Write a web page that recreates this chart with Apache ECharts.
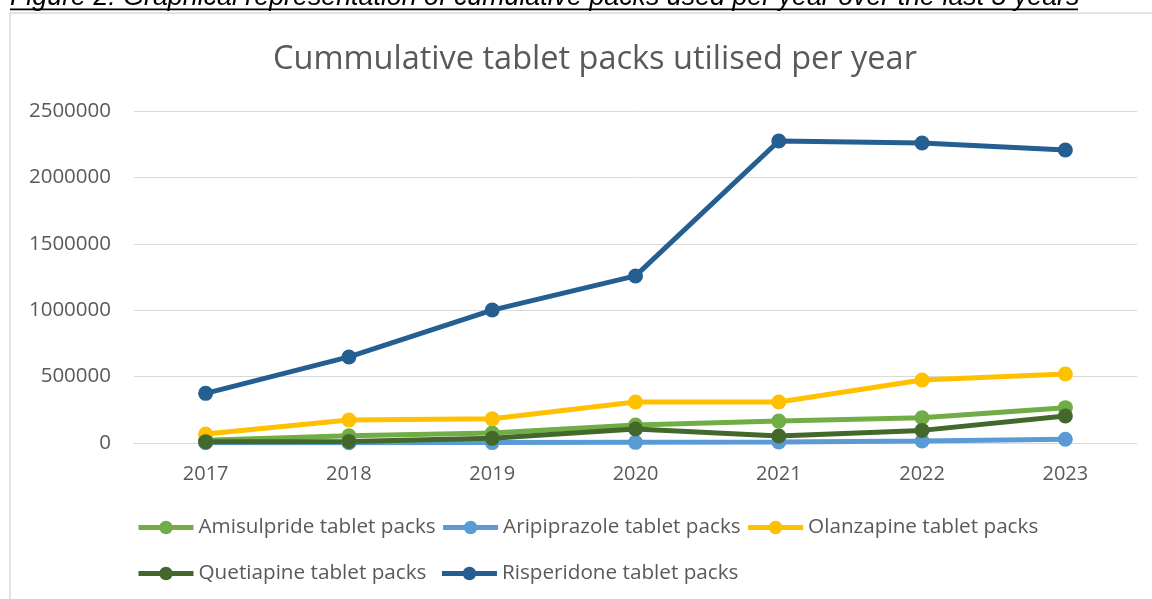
<!DOCTYPE html>
<html><head><meta charset="utf-8">
<script src="https://cdn.jsdelivr.net/npm/echarts@6/dist/echarts.min.js"></script>
<style>html,body{margin:0;padding:0;background:#fff;}#c{width:1152px;height:599px;}</style>
</head><body><div id="c"></div>
<script>
const years = ['2017','2018','2019','2020','2021','2022','2023'];
const amisulpride = [20000, 55000, 75000, 135000, 165000, 190000, 266000];
const aripiprazole = [2000, 2000, 3000, 5000, 8000, 15000, 28000];
const olanzapine = [68000, 173000, 182000, 309000, 309000, 474000, 520000];
const quetiapine = [10000, 12000, 35000, 105000, 53000, 95000, 203000];
const risperidone = [374000, 648000, 1001000, 1258000, 2274000, 2259000, 2206000];
const yTicks = [0, 500000, 1000000, 1500000, 2000000, 2500000];
const seriesNames = ['Amisulpride tablet packs','Aripiprazole tablet packs','Olanzapine tablet packs','Quetiapine tablet packs','Risperidone tablet packs'];
const colors = ['#70AD47','#5B9BD5','#FFC000','#43682B','#255E91'];
const values = [amisulpride, aripiprazole, olanzapine, quetiapine, risperidone];

const FONT = '"Open Sans"';
const chart = echarts.init(document.getElementById('c'), null, {renderer:'canvas'});
const legendText = {color:'#595959', fontSize:20.7, fontFamily:FONT};
const legendCommon = {itemWidth:55, itemHeight:17, padding:0, textStyle:legendText, lineStyle:{width:5}};
chart.setOption({
  animation:false,
  color: colors,
  title:{text:'Cummulative tablet packs utilised per year', left:273, top:43, padding:0,
    textStyle:{color:'#595959', fontSize:32.5, fontWeight:'normal', fontFamily:FONT}},
  graphic:[
    {type:'rect', shape:{x:10,y:13,width:1150,height:600}, style:{fill:'none',stroke:'#d9d9d9',lineWidth:1.5}, silent:true},
    {type:'text', style:{x:10, y:11.5, text:'Figure 2: Graphical representation of cumulative packs used per year over the last 5 years', font:'italic 26.8px "Liberation Sans"', fill:'#000', verticalAlign:'bottom'}},
    {type:'rect', shape:{x:10,y:8.5,width:1068,height:1.8}, style:{fill:'#000'}}
  ],
  legend:[
    Object.assign({data:seriesNames.slice(0,3), left:136, top:517, itemGap:5}, legendCommon),
    Object.assign({data:seriesNames.slice(3), left:136, top:563, itemGap:13}, legendCommon)
  ],
  grid:{left:134, right:15, top:111, bottom:156, containLabel:false},
  xAxis:{type:'category', data:years, boundaryGap:true,
    axisLine:{show:true, lineStyle:{color:'#d9d9d9', width:1}}, axisTick:{show:false},
    axisLabel:{color:'#595959', fontSize:20, fontFamily:FONT, margin:21}},
  yAxis:{type:'value', min:0, max:2500000, interval:500000,
    axisLine:{show:false}, axisTick:{show:false},
    splitLine:{lineStyle:{color:'#d9d9d9', width:1}},
    axisLabel:{color:'#595959', fontSize:20.5, fontFamily:FONT, margin:23, formatter:v=>String(v)}},
  series: values.map((v,i)=>({
    name:seriesNames[i], type:'line', data:v, symbol:'circle', symbolSize:15,
    lineStyle:{width:5, color:colors[i]}, itemStyle:{color:colors[i]}
  }))
});
</script></body></html>
